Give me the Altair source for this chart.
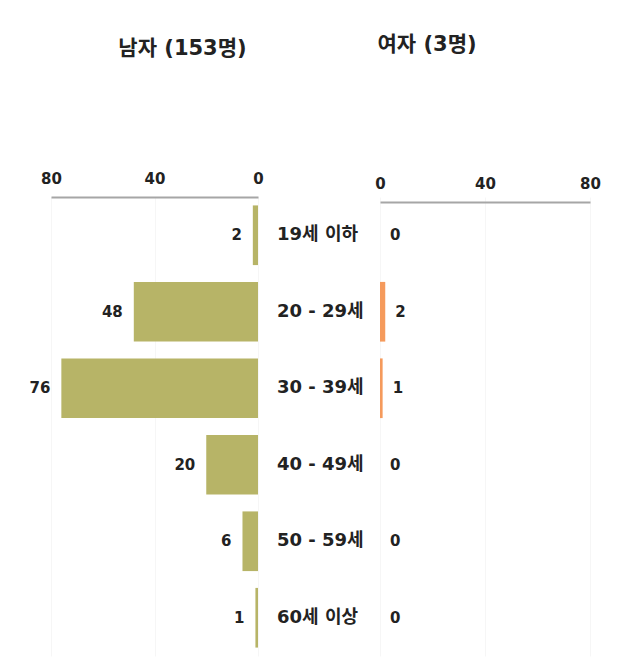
import altair as alt
import pandas as pd

categories = ["19세 이하", "20 - 29세", "30 - 39세", "40 - 49세", "50 - 59세", "60세 이상"]
male = [2, 48, 76, 20, 6, 1]
female = [0, 2, 1, 0, 0, 0]
ticks = [0, 40, 80]
title_male = "남자 (153명)"
title_female = "여자 (3명)"

df = pd.DataFrame({"cat": categories, "male": male, "female": female})

FONT = "DejaVu Sans, Noto Sans CJK KR"
OLIVE = "#B7B467"
ORANGE = "#F59A5C"
H = 459

ycat = alt.Y("cat:N", sort=categories, axis=None,
             scale=alt.Scale(paddingInner=0.22, paddingOuter=0.11))

def xaxis(offset=0):
    return alt.Axis(orient="top", values=ticks, title=None, ticks=False,
                    domainColor="#A6A6A6", domainWidth=2, labelFont=FONT,
                    labelFontSize=15, labelFontWeight="bold", labelColor="#222",
                    labelPadding=11, grid=True, gridColor="#F6F6F6",
                    labelFlush=False, offset=offset)

base_l = alt.Chart(df)
left = alt.layer(
    base_l.mark_bar(color=OLIVE).encode(
        x=alt.X("male:Q", scale=alt.Scale(domain=[0, 80], reverse=True), axis=xaxis()),
        y=ycat),
    base_l.mark_text(align="right", dx=-11, font=FONT, fontSize=15,
                     fontWeight="bold", color="#222").encode(
        x=alt.X("male:Q"), y=ycat, text="male:Q"),
).properties(width=207, height=H,
             title=alt.TitleParams(title_male, font=FONT, fontSize=21,
                                   fontWeight="bold", color="#222",
                                   offset=112, dx=28))

mid = alt.Chart(df).mark_text(align="left", font=FONT, fontSize=18,
                              fontWeight="bold", color="#222").encode(
    x=alt.value(13), y=ycat, text="cat:N"
).properties(width=110, height=H)

base_r = alt.Chart(df)
right = alt.layer(
    base_r.mark_bar(color=ORANGE).encode(
        x=alt.X("female:Q", scale=alt.Scale(domain=[0, 80]), axis=xaxis(-5)),
        y=ycat),
    base_r.mark_text(align="left", dx=10, font=FONT, fontSize=15,
                     fontWeight="bold", color="#222").encode(
        x=alt.X("female:Q"), y=ycat, text="female:Q"),
).properties(width=210, height=H,
             title=alt.TitleParams(title_female, font=FONT, fontSize=21,
                                   fontWeight="bold", color="#222",
                                   offset=121, dx=-58))

chart = alt.hconcat(left, mid, right, spacing=0).properties(
    padding={"left": 21, "top": 26, "right": 5, "bottom": 5},
    background="white",
).configure_view(strokeWidth=0)

chart.save("out.html", embed_options={"renderer": "svg", "actions": False})
